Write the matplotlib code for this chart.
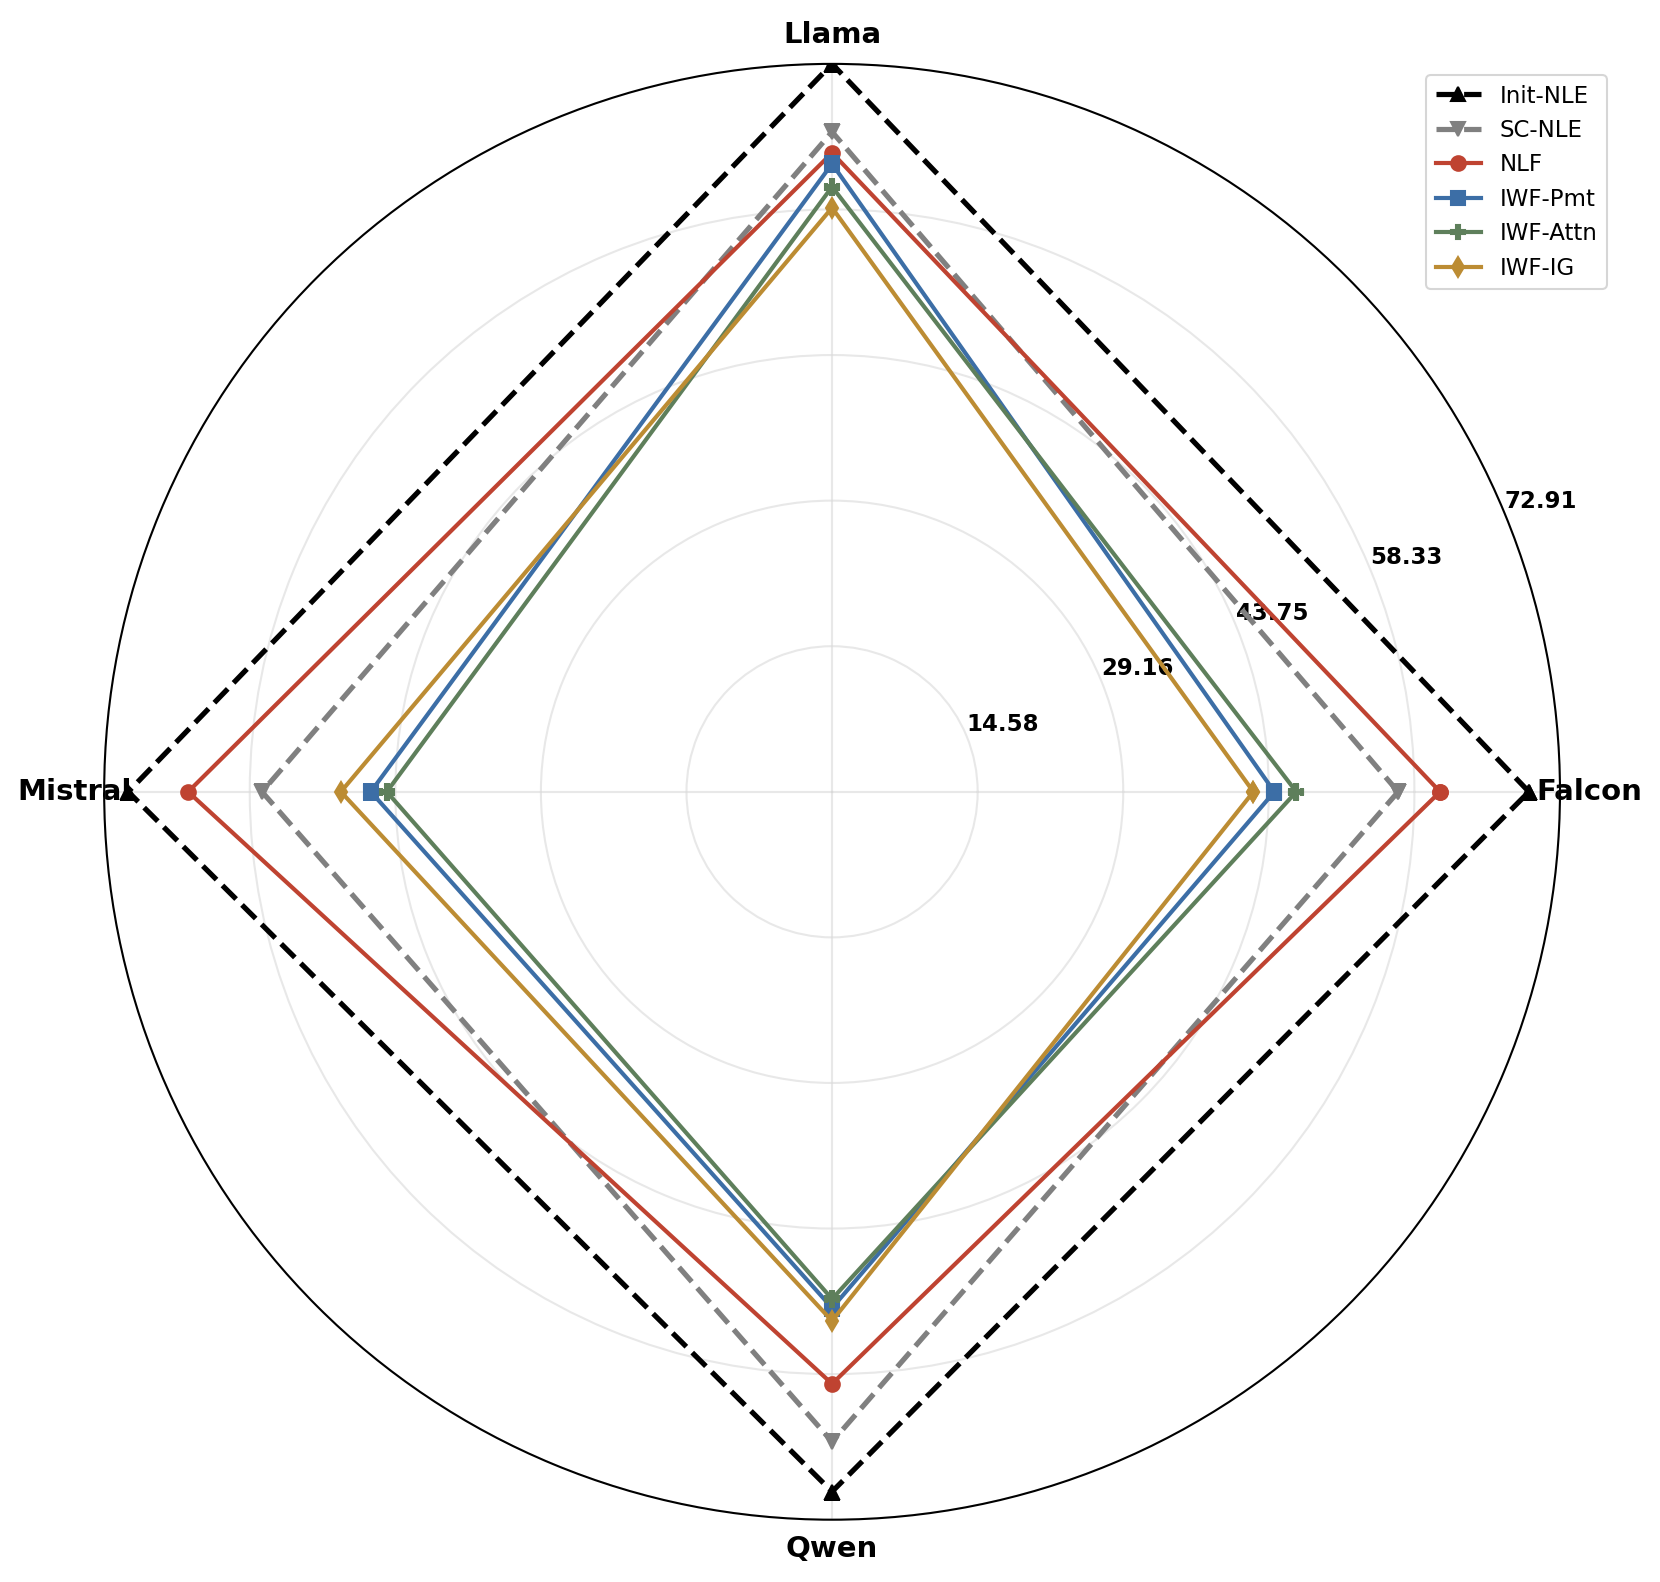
import numpy as np
import matplotlib
matplotlib.use("Agg")
import matplotlib.pyplot as plt

# models on the spokes
models = ["Falcon", "Llama", "Mistral", "Qwen"]

# scores per method (order follows models)
init_nle = [69.8, 72.91, 70.5, 70.1]
sc_nle = [56.7, 66.1, 57.1, 65.1]
nlf = [60.9, 64.0, 64.5, 59.3]
iwf_pmt = [44.3, 62.9, 46.2, 51.7]
iwf_attn = [46.5, 60.6, 44.6, 50.8]
iwf_ig = [42.2, 58.5, 49.2, 53.0]

series = [
    ("Init-NLE", init_nle, "black", "^", "--", 2.5),
    ("SC-NLE", sc_nle, "#808080", "v", "--", 2.5),
    ("NLF", nlf, "#BF4331", "o", "-", 2.0),
    ("IWF-Pmt", iwf_pmt, "#3C6EA6", "s", "-", 2.0),
    ("IWF-Attn", iwf_attn, "#5E7F5B", "P", "-", 2.0),
    ("IWF-IG", iwf_ig, "#BC8C33", "d", "-", 2.0),
]

angles = np.linspace(0, 2 * np.pi, len(models), endpoint=False)
angles_closed = np.concatenate([angles, angles[:1]])

fig = plt.figure(figsize=(1660 / 150, 1582 / 150), dpi=150)
w = 0.8770
h = w * 1660 / 1582
ax = fig.add_axes([0.50125 - w / 2, 0.4995 - h / 2, w, h], projection="polar")

for name, vals, col, mk, ls, lw in series:
    v = np.concatenate([vals, vals[:1]])
    ax.plot(angles_closed, v, color=col, marker=mk, linestyle=ls,
            linewidth=lw, markersize=7, label=name)

rmax = max(max(s[1]) for s in series)
ax.set_ylim(0, rmax)
rticks = np.linspace(0, rmax, 6)[1:]
ax.set_yticks(rticks)
ax.set_yticklabels(["%.2f" % t for t in rticks], fontsize=11, fontweight="bold")

ax.set_xticks(angles)
ax.set_xticklabels(models, fontsize=14, fontweight="bold")

ax.grid(color="#d9d9d9", alpha=0.6, linewidth=1)
ax.spines["polar"].set_linewidth(1.0)

ax.legend(loc="upper right", bbox_to_anchor=(1.04, 1.0), fontsize=11)

fig.savefig("out.png", dpi=150)
